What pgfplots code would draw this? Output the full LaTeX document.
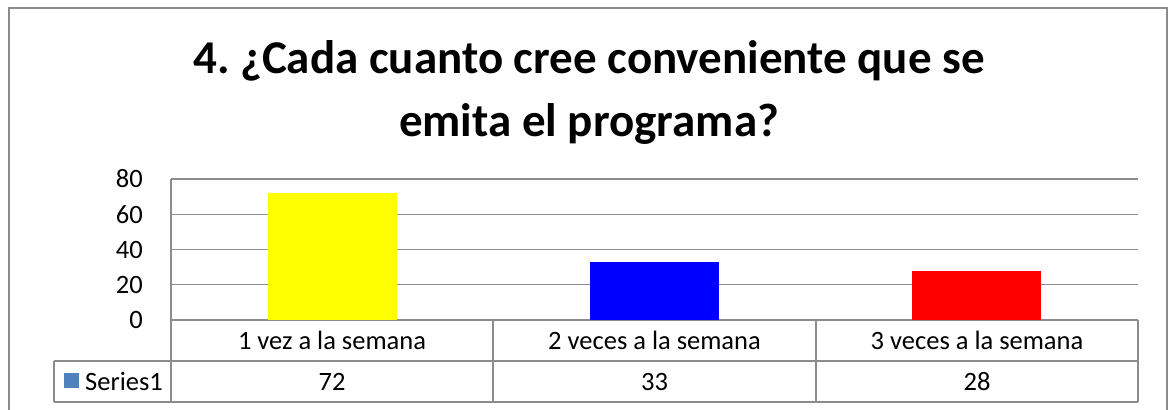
\documentclass[border=0pt]{standalone}
\usepackage{fontspec}
\setmainfont{Carlito}
\usepackage{pgfplots}
\pgfplotsset{compat=1.18}

\definecolor{gridgray}{HTML}{8C8C8C}
\definecolor{legblue}{HTML}{4F81BD}
\definecolor{baryellow}{HTML}{FFFF00}
\definecolor{barblue}{HTML}{0000FF}
\definecolor{barred}{HTML}{FF0000}
\newcommand{\tabfont}{\fontsize{26.5bp}{31bp}\selectfont}
\frenchspacing

\begin{document}
\begin{tikzpicture}[x=1bp, y=1bp]
\path[use as bounding box] (0,0) rectangle (1168,409);

% outer chart frame
\draw[gridgray, line width=1.5bp] (9,-10) -- (9,401) -- (1167,401) -- (1167,-10);

% title
\node[anchor=base, font=\fontsize{47bp}{57bp}\selectfont\bfseries] at (589,336) {4. ¿Cada cuanto cree conveniente que se};
\node[anchor=base, font=\fontsize{47bp}{57bp}\selectfont\bfseries] at (589,273) {emita el programa?};

\begin{axis}[
    at={(171bp,89bp)}, anchor=south west,
    width=967bp, height=141bp, scale only axis,
    xmin=0.5, xmax=3.5,
    ymin=0, ymax=80,
    ytick={0,20,40,60,80},
    xtick=\empty,
    ymajorgrids,
    grid style={gridgray, line width=1.3bp},
    axis line style={draw=none},
    major tick length=0pt,
    /pgf/number format/assume math mode=true,
    yticklabel style={font=\tabfont, anchor=east, inner sep=0pt, xshift=-28bp},
    clip=false,
]
\addplot[ybar, bar width=129bp, bar shift=0pt, fill=baryellow, draw=none] coordinates {(1,72)};
\addplot[ybar, bar width=129bp, bar shift=0pt, fill=barblue, draw=none] coordinates {(2,33)};
\addplot[ybar, bar width=129bp, bar shift=0pt, fill=barred, draw=none] coordinates {(3,28)};
\end{axis}

% data table
\draw[gridgray, line width=1.3bp] (171,230) -- (171,7);
\draw[gridgray, line width=1.3bp] (54,48) -- (1138,48);
\draw[gridgray, line width=1.3bp] (54,7) -- (1138,7);
\draw[gridgray, line width=1.3bp] (54,48) -- (54,7);
\foreach \xx in {493,816,1138} \draw[gridgray, line width=1.3bp] (\xx,89) -- (\xx,7);

\node[anchor=base, font=\tabfont] at (332,60) {1 vez a la semana};
\node[anchor=base, font=\tabfont] at (654.5,60) {2 veces a la semana};
\node[anchor=base, font=\tabfont] at (977,60) {3 veces a la semana};

\fill[legblue] (64,21) rectangle (79,36);
\node[anchor=base west, inner sep=0pt, font=\tabfont] at (85,19) {Series1};
\node[anchor=base, font=\tabfont] at (332,19) {72};
\node[anchor=base, font=\tabfont] at (654.5,19) {33};
\node[anchor=base, font=\tabfont] at (977,19) {28};
\end{tikzpicture}
\end{document}
